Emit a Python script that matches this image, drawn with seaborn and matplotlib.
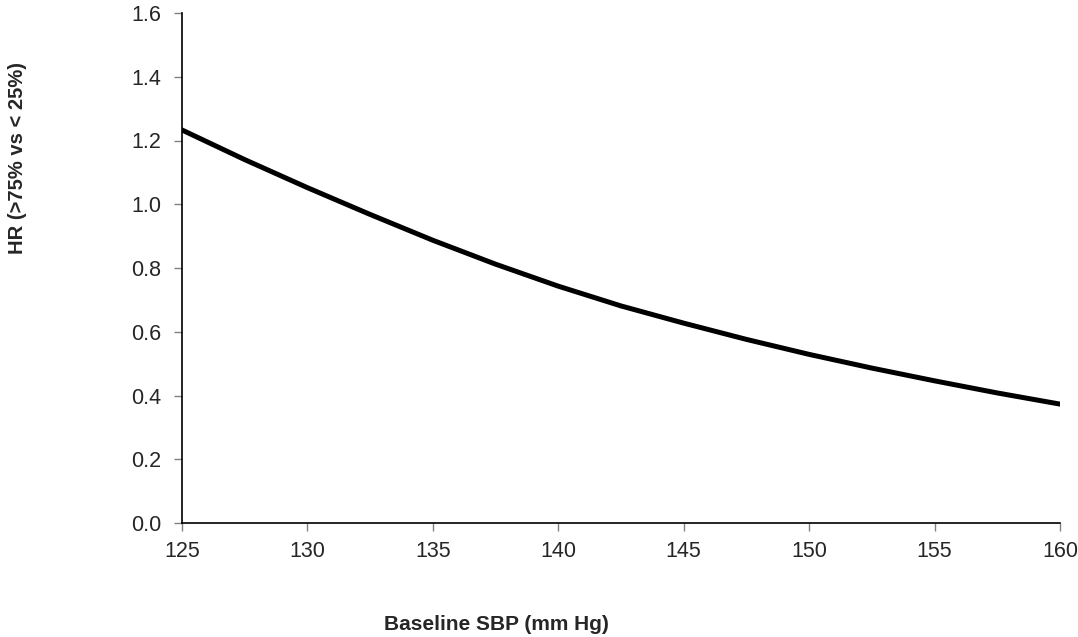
import numpy as np
import pandas as pd
import seaborn as sns
import matplotlib
matplotlib.use("Agg")
import matplotlib.pyplot as plt

# values
sbp = [125, 127.5, 130, 132.5, 135, 137.5, 140, 142.5, 145, 147.5, 150, 152.5, 155, 157.5, 160]
hr = [1.233, 1.140, 1.052, 0.968, 0.887, 0.812, 0.743, 0.681, 0.627, 0.576, 0.529, 0.486, 0.446, 0.408, 0.373]
x_ticks = [125, 130, 135, 140, 145, 150, 155, 160]
y_ticks = [0.0, 0.2, 0.4, 0.6, 0.8, 1.0, 1.2, 1.4, 1.6]

sns.set_style("ticks")
plt.rcParams['font.family'] = ['Liberation Sans', 'DejaVu Sans']

df = pd.DataFrame({"sbp": sbp, "hr": hr})

fig = plt.figure(figsize=(10.78, 6.37), dpi=100)
ax = fig.add_axes([182 / 1078, 1 - 523 / 637, (1060 - 182) / 1078, (523 - 13) / 637])

sns.lineplot(data=df, x="sbp", y="hr", ax=ax, color="black", linewidth=3.6)

ax.set_xlim(125, 160)
ax.set_ylim(0, 1.6)
ax.set_xticks(x_ticks)
ax.set_yticks(y_ticks)
ax.set_yticklabels([f"{v:.1f}" for v in y_ticks])
ax.tick_params(axis="both", labelsize=15.5, color="#808080", length=6, width=1)
ax.tick_params(axis="x", pad=7)
ax.tick_params(axis="y", pad=9)
ax.set_xlabel("")
ax.set_ylabel("")
for side in ["top", "right"]:
    ax.spines[side].set_visible(False)
for side in ["left", "bottom"]:
    ax.spines[side].set_linewidth(1.2)
    ax.spines[side].set_color("black")

fig.text(496 / 1078, 1 - 625 / 637, "Baseline SBP (mm Hg)", ha="center", va="center",
         fontsize=15, fontweight="bold")
fig.text(18 / 1078, 1 - 158 / 637, "HR (>75% vs < 25%)", ha="center", va="center",
         rotation=90, fontsize=14.5, fontweight="bold")

fig.savefig("out.png", dpi=100)
